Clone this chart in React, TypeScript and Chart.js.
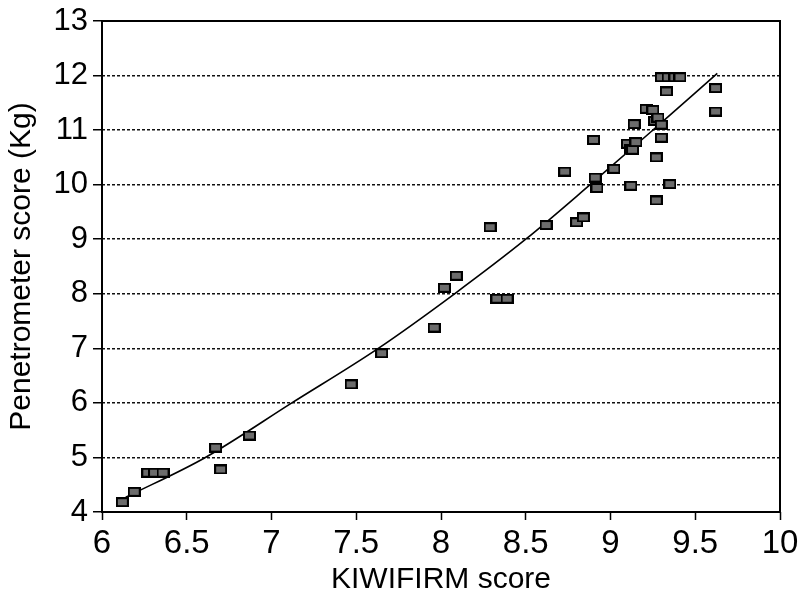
import React, { useEffect, useRef } from "react";
import { Chart, registerables } from "chart.js";

Chart.register(...registerables);

// Observed samples (KIWIFIRM score vs penetrometer score)
const kiwifirmScores = [
  6.12, 6.19, 6.27, 6.31, 6.36, 6.67, 6.70, 6.87, 7.47, 7.65,
  7.96, 8.02, 8.09, 8.29, 8.33, 8.39, 8.62, 8.73, 8.80, 8.84,
  8.90, 8.91, 8.92, 9.02, 9.10, 9.12, 9.13, 9.15, 9.14, 9.12,
  9.21, 9.25, 9.26, 9.28, 9.30, 9.30, 9.27, 9.27, 9.35, 9.30,
  9.34, 9.38, 9.41, 9.33, 9.62, 9.62,
];
const penetrometerScores = [
  4.18, 4.37, 4.72, 4.72, 4.72, 5.18, 4.78, 5.40, 6.34, 6.91,
  7.38, 8.11, 8.33, 9.22, 7.91, 7.91, 9.26, 10.24, 9.31, 9.40,
  10.82, 10.13, 9.94, 10.29, 10.75, 10.66, 10.64, 10.78, 11.11, 9.98,
  11.39, 11.37, 11.17, 11.23, 11.10, 10.86, 10.50, 9.71, 10.01, 11.97,
  11.97, 11.97, 11.97, 11.71, 11.77, 11.34,
];

// Fitted curve
const fitX = [6.14, 6.61, 7.12, 7.63, 8.08, 8.5, 8.88, 9.25, 9.63];
const fitY = [4.27, 5, 6, 7, 8, 9, 10, 11, 12.04];

// Axis ranges / tick settings
const xMin = 6;
const xMax = 10;
const xStep = 0.5;
const yMin = 4;
const yMax = 13;
const yStep = 1;

const xTitle = "KIWIFIRM score";
const yTitle = "Penetrometer score (Kg)";

const FONT = "'Liberation Sans', Arial, Helvetica, sans-serif";

function makeMarker(): HTMLCanvasElement {
  const c = document.createElement("canvas");
  c.width = 13;
  c.height = 10;
  const g = c.getContext("2d")!;
  g.fillStyle = "#6c6c6c";
  g.fillRect(0, 0, 13, 10);
  g.strokeStyle = "#000";
  g.lineWidth = 2;
  g.strokeRect(1, 1, 11, 8);
  return c;
}

const framePlugin = {
  id: "frame",
  beforeDatasetsDraw(chart: any) {
    const { ctx, chartArea } = chart;
    ctx.save();
    ctx.strokeStyle = "#000";
    ctx.lineWidth = 2;
    ctx.strokeRect(
      chartArea.left,
      chartArea.top,
      chartArea.right - chartArea.left,
      chartArea.bottom - chartArea.top
    );
    ctx.restore();
  },
};

export default function App() {
  const ref = useRef<HTMLCanvasElement | null>(null);

  useEffect(() => {
    document.body.style.margin = "0";
    const canvas = ref.current;
    if (!canvas) return;
    const marker = makeMarker();
    const scatterData = kiwifirmScores.map((x, i) => ({ x, y: penetrometerScores[i] }));
    const fitData = fitX.map((x, i) => ({ x, y: fitY[i] }));

    const chart = new Chart(canvas, {
      type: "scatter",
      data: {
        datasets: [
          {
            label: "fit",
            data: fitData,
            showLine: true,
            borderColor: "#000",
            borderWidth: 1.6,
            pointRadius: 0,
            cubicInterpolationMode: "monotone",
            fill: false,
            order: 2,
          } as any,
          {
            label: "samples",
            data: scatterData,
            pointStyle: marker as any,
            pointRadius: 6,
            order: 1,
          } as any,
        ],
      },
      options: {
        animation: false,
        responsive: false,
        events: [],
        layout: { padding: { left: 0, top: 21, right: 26, bottom: 0 } },
        plugins: {
          legend: { display: false },
          tooltip: { enabled: false },
        },
        scales: {
          x: {
            type: "linear",
            min: xMin,
            max: xMax,
            border: { display: false },
            grid: {
              drawOnChartArea: false,
              drawTicks: true,
              tickLength: 8,
              tickColor: "#000",
              tickWidth: 1.5,
            },
            ticks: {
              stepSize: xStep,
              color: "#000",
              padding: 4,
              maxRotation: 0,
              font: { family: FONT, size: 33 },
              callback: (v: any) => String(Number(Number(v).toFixed(2))),
            },
            title: {
              display: true,
              text: xTitle,
              color: "#000",
              font: { family: FONT, size: 30 },
              padding: { top: 0, bottom: 4 },
            },
            afterFit(scale: any) {
              scale.height = 90;
              scale.paddingLeft = 0;
              scale.paddingRight = 0;
            },
          },
          y: {
            type: "linear",
            min: yMin,
            max: yMax,
            border: { display: false, dash: [3, 2] },
            grid: {
              color: "#111",
              lineWidth: 1.5,
              drawTicks: true,
              tickLength: 9,
              tickColor: "#000",
              tickWidth: 1.5,
              tickBorderDash: [],
            },
            ticks: {
              stepSize: yStep,
              color: "#000",
              padding: 5,
              font: { family: FONT, size: 31 },
              callback: (v: any) => String(Number(v)),
            },
            title: {
              display: true,
              text: yTitle,
              color: "#000",
              font: { family: FONT, size: 30 },
              padding: { top: 4, bottom: 0 },
            },
            afterFit(scale: any) {
              scale.width = 102;
              scale.paddingTop = 0;
              scale.paddingBottom = 0;
            },
          },
        },
      },
      plugins: [framePlugin],
    });

    return () => chart.destroy();
  }, []);

  return (
    <div style={{ width: 806, height: 602, background: "#fff" }}>
      <canvas ref={ref} width={806} height={602} style={{ display: "block" }} />
    </div>
  );
}
